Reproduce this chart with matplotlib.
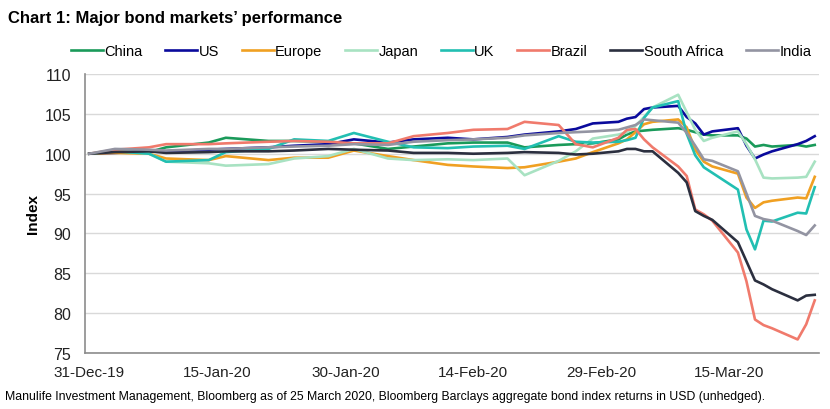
import matplotlib
matplotlib.use("Agg")
import matplotlib.pyplot as plt
import matplotlib.dates as mdates
import pandas as pd

dates = ["2019-12-31", "2020-01-03", "2020-01-07", "2020-01-09", "2020-01-14", "2020-01-16",
         "2020-01-21", "2020-01-24", "2020-01-28", "2020-01-31", "2020-02-04", "2020-02-07",
         "2020-02-11", "2020-02-14", "2020-02-18", "2020-02-20", "2020-02-24", "2020-02-26",
         "2020-02-28", "2020-03-02", "2020-03-03", "2020-03-04", "2020-03-05", "2020-03-06",
         "2020-03-09", "2020-03-10", "2020-03-11", "2020-03-12", "2020-03-13", "2020-03-16",
         "2020-03-17", "2020-03-18", "2020-03-19", "2020-03-20", "2020-03-23", "2020-03-24",
         "2020-03-25"]

china = [100.0, 100.2, 100.2, 100.8, 101.4, 102.0, 101.6, 101.6, 101.5, 101.3, 100.6, 100.9,
         101.3, 101.4, 101.4, 100.8, 101.1, 101.2, 101.3, 101.8, 102.4, 102.8, 102.9, 103.0,
         103.2, 103.0, 102.7, 102.4, 102.3, 102.3, 101.9, 100.9, 101.1, 100.9, 101.1, 100.9,
         101.1]
us = [100.0, 100.1, 100.3, 100.3, 100.5, 100.6, 100.8, 101.0, 101.2, 101.8, 101.4, 101.8,
      102.0, 101.8, 102.1, 102.4, 102.8, 103.1, 103.8, 104.0, 104.4, 104.6, 105.6, 105.8,
      106.0, 104.6, 103.8, 102.4, 102.8, 103.2, 101.0, 99.4, 99.9, 100.3, 101.2, 101.6,
      102.2]
europe = [100.0, 100.1, 100.0, 99.4, 99.2, 99.7, 99.2, 99.5, 99.5, 100.4, 99.7, 99.2,
          98.6, 98.4, 98.2, 98.3, 99.0, 99.4, 100.2, 101.3, 101.8, 102.7, 103.7, 104.0,
          104.3, 103.3, 100.5, 99.0, 98.4, 97.5, 94.5, 93.2, 93.9, 94.1, 94.5, 94.4,
          97.1]
japan = [100.0, 100.4, 100.0, 99.0, 98.8, 98.5, 98.7, 99.4, 99.7, 100.6, 99.4, 99.2,
         99.3, 99.2, 99.4, 97.3, 99.1, 100.3, 101.9, 102.4, 102.7, 103.5, 104.6, 105.8,
         107.4, 105.2, 103.0, 101.6, 102.0, 102.8, 101.2, 99.3, 97.0, 96.9, 97.0, 97.1,
         99.0]
uk = [100.0, 100.3, 100.0, 99.0, 99.2, 100.2, 100.6, 101.8, 101.6, 102.6, 101.5, 100.8,
      100.7, 100.9, 101.0, 100.6, 102.2, 101.5, 101.4, 101.5, 101.7, 102.0, 104.5, 105.8,
      106.6, 102.5, 99.8, 98.3, 97.6, 95.5, 90.5, 88.0, 91.6, 91.5, 92.6, 92.5,
      95.8]
brazil = [100.0, 100.5, 100.8, 101.2, 101.2, 101.3, 101.5, 101.6, 101.5, 101.3, 101.3, 102.2,
          102.6, 103.0, 103.1, 104.0, 103.6, 101.2, 100.8, 102.0, 103.0, 103.1, 101.8, 100.8,
          98.4, 97.2, 93.0, 92.4, 91.6, 87.6, 84.0, 79.2, 78.5, 78.1, 76.7, 78.6,
          81.6]
south_africa = [100.0, 100.2, 100.3, 100.1, 100.2, 100.3, 100.3, 100.4, 100.6, 100.5, 100.4, 100.1,
                100.1, 100.0, 100.1, 100.2, 100.1, 99.9, 100.0, 100.3, 100.6, 100.6, 100.3, 100.3,
                97.6, 96.4, 92.8, 92.2, 91.7, 88.9, 86.5, 84.1, 83.6, 83.0, 81.6, 82.2,
                82.3]
india = [100.0, 100.6, 100.5, 100.4, 100.6, 100.6, 100.8, 100.9, 101.0, 101.2, 101.1, 101.5,
         101.7, 101.8, 102.0, 102.3, 102.6, 102.7, 102.8, 103.0, 103.3, 103.6, 104.3, 104.2,
         103.9, 102.6, 101.0, 99.3, 99.1, 97.8, 95.0, 92.2, 91.8, 91.6, 90.3, 89.8,
         91.0]

series_names = ["China", "US", "Europe", "Japan", "UK", "Brazil", "South Africa", "India"]
series_values = [china, us, europe, japan, uk, brazil, south_africa, india]
colors = ["#1a9a5a", "#0a0a9c", "#f0a022", "#a8e2c2", "#22bfb2", "#f07a6c", "#2b2f3f", "#9394a2"]

tick_dates = ["2019-12-31", "2020-01-15", "2020-01-30", "2020-02-14", "2020-02-29", "2020-03-15"]
y_ticks = [75, 80, 85, 90, 95, 100, 105, 110]

title = "Chart 1: Major bond markets\u2019 performance"
footnote = ("Manulife Investment Management, Bloomberg as of 25 March 2020, Bloomberg Barclays "
            "aggregate bond index returns in USD (unhedged).")

plt.rcParams["font.family"] = ["Liberation Sans", "DejaVu Sans"]

fig = plt.figure(figsize=(8.3, 4.1), dpi=100)
ax = fig.add_axes([85 / 830, 1 - 354 / 410, (819 - 85) / 830, (354 - 75) / 410])

x = pd.to_datetime(dates)
for name, vals, c in zip(series_names, series_values, colors):
    ax.plot(x, vals, color=c, lw=1.9, label=name, solid_joinstyle="round")

ax.set_ylim(75, 110)
ax.set_yticks(y_ticks)
ax.set_xlim(pd.Timestamp("2019-12-30 12:00"), pd.Timestamp("2020-03-25 12:00"))
ax.set_xticks(pd.to_datetime(tick_dates))
ax.xaxis.set_major_formatter(mdates.DateFormatter("%d-%b-%y"))
ax.tick_params(axis="both", length=0, colors="#222222")
ax.tick_params(axis="y", labelsize=11.5, pad=10)
ax.tick_params(axis="x", labelsize=11, pad=9)
ax.grid(axis="y", color="#d9d9d9", lw=1)
ax.set_axisbelow(True)
for s in ["top", "right"]:
    ax.spines[s].set_visible(False)
for s in ["left", "bottom"]:
    ax.spines[s].set_color("#8c8c8c")
    ax.spines[s].set_linewidth(1.2)
ax.set_ylabel("Index", fontsize=11, fontweight="bold", labelpad=3)

fig.text(8 / 830, 1 - 18 / 410, title, fontsize=12, fontweight="bold", va="center", ha="left")
fig.legend(loc="center", bbox_to_anchor=(441 / 830, 1 - 52 / 410), ncol=8, frameon=False,
           fontsize=10.5, handlelength=2.2, handletextpad=0.1, columnspacing=1.55,
           borderpad=0.2)
fig.text(5 / 830, 1 - 397 / 410, footnote, fontsize=8.8, va="center", ha="left")

fig.savefig("out.png", dpi=100)
